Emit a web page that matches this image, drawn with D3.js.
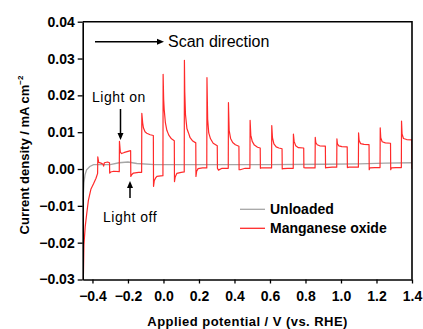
<!DOCTYPE html>
<html>
<head>
<meta charset="utf-8">
<script src="https://cdn.jsdelivr.net/npm/d3@7"></script>
<style>
  body { margin: 0; background: #fff; }
  svg { display: block; font-family: "Liberation Sans", Arial, sans-serif; }
</style>
</head>
<body>
<script>
// Valores: [potencial (V vs RHE), densidad de corriente (mA cm-2)]
const unloaded = [
  [-0.453, -0.0085], [-0.451, -0.0065], [-0.448, -0.0038], [-0.442, -0.0016], [-0.433, -0.0002],
  [-0.415, 0.0007], [-0.394, 0.0012], [-0.300, 0.0012], [-0.250, 0.0017], [-0.200, 0.0019],
  [-0.150, 0.0015], [-0.050, 0.0012], [0.100, 0.0012], [0.300, 0.0012], [0.600, 0.0012],
  [0.900, 0.0013], [1.100, 0.0014], [1.250, 0.0016], [1.400, 0.0017]
];

const manganeseOxide = [
  [-0.453, -0.031], [-0.451, -0.029], [-0.448, -0.0206], [-0.441, -0.0157], [-0.432, -0.012],
  [-0.423, -0.0085], [-0.409, -0.0055], [-0.394, -0.004], [-0.380, -0.0025], [-0.371, -0.0012],
  [-0.370, 0.0033], [-0.365, 0.0018], [-0.352, 0.0016], [-0.340, 0.0013], [-0.337, 0.0008],
  [-0.333, 0.0017], [-0.315, 0.0019], [-0.304, 0.0017],
  [-0.303, -0.0011], [-0.297, -0.0008], [-0.280, -0.0006], [-0.249, -0.0007],
  [-0.248, 0.0075], [-0.243, 0.0046], [-0.236, 0.0042], [-0.220, 0.0045], [-0.200, 0.0048], [-0.185, 0.005],
  [-0.184, -0.002], [-0.178, -0.0015], [-0.169, -0.0011], [-0.140, -0.0009], [-0.123, -0.0009],
  [-0.122, 0.0151], [-0.117, 0.0125], [-0.113, 0.0112], [-0.104, 0.0101], [-0.094, 0.0097],
  [-0.075, 0.0093], [-0.057, 0.0091],
  [-0.056, -0.0047], [-0.052, -0.0032], [-0.045, -0.0025], [-0.037, -0.002], [-0.003, -0.0018],
  [-0.002, 0.0257], [0.001, 0.019], [0.004, 0.0162], [0.011, 0.0125], [0.019, 0.0105],
  [0.030, 0.0092], [0.045, 0.0082], [0.061, 0.0077],
  [0.062, -0.0034], [0.066, -0.0022], [0.075, -0.0012], [0.100, -0.0009], [0.117, -0.0008],
  [0.118, 0.0295], [0.120, 0.021], [0.124, 0.0148], [0.132, 0.011], [0.141, 0.0098],
  [0.150, 0.0085], [0.165, 0.0076], [0.182, 0.0071],
  [0.183, -0.002], [0.187, -0.0006], [0.195, 0.0001], [0.220, 0.0003], [0.244, 0.0003],
  [0.245, 0.0248], [0.249, 0.0135], [0.255, 0.0098], [0.265, 0.0082], [0.280, 0.007], [0.303, 0.0063],
  [0.304, 0.0002], [0.310, -0.0003], [0.330, 0.0002], [0.365, 0.0002],
  [0.366, 0.018], [0.370, 0.0105], [0.378, 0.0083], [0.390, 0.0072], [0.405, 0.0066], [0.425, 0.0062],
  [0.426, -0.0002], [0.432, -0.0002], [0.460, 0.0002], [0.487, 0.0002],
  [0.488, 0.0132], [0.492, 0.0092], [0.500, 0.0075], [0.512, 0.0065], [0.530, 0.0059], [0.545, 0.0057],
  [0.546, 0.0002], [0.552, 0.0003], [0.580, 0.0003], [0.609, 0.0003],
  [0.610, 0.0118], [0.614, 0.0085], [0.622, 0.0068], [0.635, 0.006], [0.650, 0.0057], [0.668, 0.0055],
  [0.669, 0.0], [0.675, 0.0001], [0.700, 0.0002], [0.731, 0.0002],
  [0.732, 0.0095], [0.736, 0.0075], [0.745, 0.0063], [0.760, 0.0058], [0.790, 0.0057],
  [0.791, 0.0004], [0.800, 0.0003], [0.830, 0.0003], [0.854, 0.0003],
  [0.855, 0.0086], [0.858, 0.0072], [0.866, 0.0066], [0.880, 0.0063], [0.912, 0.0062],
  [0.913, 0.0003], [0.920, 0.0004], [0.950, 0.0005], [0.976, 0.0005],
  [0.977, 0.0082], [0.980, 0.0068], [0.988, 0.0063], [1.005, 0.0061], [1.035, 0.006],
  [1.036, 0.0004], [1.045, 0.0005], [1.070, 0.0005], [1.098, 0.0005],
  [1.099, 0.0098], [1.102, 0.0078], [1.110, 0.0069], [1.130, 0.0067], [1.158, 0.0066],
  [1.159, -0.0002], [1.162, 0.0003], [1.190, 0.0004], [1.220, 0.0004],
  [1.221, 0.0112], [1.224, 0.0085], [1.232, 0.0074], [1.250, 0.0071], [1.279, 0.007],
  [1.280, -0.0002], [1.284, 0.0003], [1.310, 0.0004], [1.340, 0.0004],
  [1.341, 0.013], [1.344, 0.0095], [1.352, 0.0083], [1.370, 0.008], [1.399, 0.0079], [1.400, 0.0]
];

const xTicks = [-0.4, -0.2, 0.0, 0.2, 0.4, 0.6, 0.8, 1.0, 1.2, 1.4];
const yTicks = [-0.03, -0.02, -0.01, 0.00, 0.01, 0.02, 0.03, 0.04];
const legendLabels = ['Unloaded', 'Manganese oxide'];
const seriesColors = ['#a6a6a6', '#ff2a2a'];

// Dimensiones
const width = 423;
const height = 329;
const plot = { left: 82.7, right: 412, top: 21.7, bottom: 279.5 };

const svg = d3.select('body')
  .append('svg')
  .attr('width', width)
  .attr('height', height);

const x = d3.scaleLinear().domain([-0.455, 1.4]).range([plot.left, plot.right]);
const y = d3.scaleLinear().domain([-0.03, 0.04]).range([plot.bottom, plot.top]);

svg.append('clipPath').attr('id', 'clip')
  .append('rect')
  .attr('x', plot.left).attr('y', plot.top)
  .attr('width', plot.right - plot.left).attr('height', plot.bottom - plot.top);

// Curvas
const line = d3.line().x(d => x(d[0])).y(d => y(d[1]));
const curves = svg.append('g').attr('clip-path', 'url(#clip)');
curves.append('path')
  .datum(unloaded)
  .attr('fill', 'none')
  .attr('stroke', seriesColors[0])
  .attr('stroke-width', 1.3)
  .attr('d', line);
curves.append('path')
  .datum(manganeseOxide)
  .attr('fill', 'none')
  .attr('stroke', seriesColors[1])
  .attr('stroke-width', 1.2)
  .attr('stroke-linejoin', 'round')
  .attr('d', line);

// Ejes
const xAxis = svg.append('g')
  .attr('transform', `translate(0,${plot.bottom})`)
  .call(d3.axisBottom(x).tickValues(xTicks).tickFormat(d3.format('.1f')).tickSize(4).tickPadding(8).tickSizeOuter(0));
const yAxis = svg.append('g')
  .attr('transform', `translate(${plot.left},0)`)
  .call(d3.axisLeft(y).tickValues(yTicks).tickFormat(d3.format('.2f')).tickSize(5).tickPadding(3).tickSizeOuter(0));

[xAxis, yAxis].forEach(g => {
  g.select('.domain').attr('stroke', '#000').attr('stroke-width', 1.6);
  g.selectAll('.tick line').attr('stroke', '#000').attr('stroke-width', 1.3);
  g.selectAll('.tick text')
    .attr('fill', '#000')
    .attr('font-family', '"Liberation Sans", Arial, sans-serif')
    .attr('font-weight', 'bold')
    .attr('font-size', 14);
});

// Marco superior y derecho
svg.append('path')
  .attr('d', `M${plot.left},${plot.top} H${plot.right} V${plot.bottom}`)
  .attr('fill', 'none')
  .attr('stroke', '#000')
  .attr('stroke-width', 1.6);

// Títulos de los ejes
svg.append('text')
  .attr('x', (plot.left + plot.right) / 2)
  .attr('y', 326)
  .attr('text-anchor', 'middle')
  .attr('font-weight', 'bold')
  .attr('font-size', 13)
  .attr('textLength', 200)
  .attr('lengthAdjust', 'spacing')
  .text('Applied potential / V (vs. RHE)');

const yTitle = svg.append('text')
  .attr('transform', 'translate(29,155) rotate(-90)')
  .attr('text-anchor', 'middle')
  .attr('font-weight', 'bold')
  .attr('font-size', 13);
yTitle.append('tspan').text('Current density / mA cm');
yTitle.append('tspan').attr('font-size', 8).attr('dy', -6).text('−2');

// Flechas
const arrow = (x1, y1, x2, y2) => {
  const a = Math.atan2(y2 - y1, x2 - x1);
  const len = 7, half = 3;
  const bx = x2 - Math.cos(a) * len, by = y2 - Math.sin(a) * len;
  svg.append('line')
    .attr('x1', x1).attr('y1', y1).attr('x2', bx).attr('y2', by)
    .attr('stroke', '#000').attr('stroke-width', 1.5);
  svg.append('path')
    .attr('d', `M${x2},${y2} L${bx - Math.sin(a) * half},${by + Math.cos(a) * half} L${bx + Math.sin(a) * half},${by - Math.cos(a) * half} Z`)
    .attr('fill', '#000');
};

arrow(95, 41.7, 164, 41.7);
svg.append('text').attr('x', 168).attr('y', 47).attr('font-size', 16).text('Scan direction');

svg.append('text').attr('x', 92).attr('y', 101.5).attr('font-size', 14).attr('letter-spacing', 0.5).text('Light on');
arrow(120.5, 109, 120.5, 140);

svg.append('text').attr('x', 103).attr('y', 222).attr('font-size', 14).attr('letter-spacing', 0.5).text('Light off');
arrow(130, 198, 130, 181);

// Leyenda
const legend = svg.append('g');
legendLabels.forEach((label, i) => {
  const ly = 209.3 + i * 19;
  legend.append('line')
    .attr('x1', 240).attr('x2', 265).attr('y1', ly).attr('y2', ly)
    .attr('stroke', seriesColors[i]).attr('stroke-width', 1.3);
  legend.append('text')
    .attr('x', 270).attr('y', ly + 5)
    .attr('font-weight', 'bold')
    .attr('font-size', 14)
    .text(label);
});
</script>
</body>
</html>
